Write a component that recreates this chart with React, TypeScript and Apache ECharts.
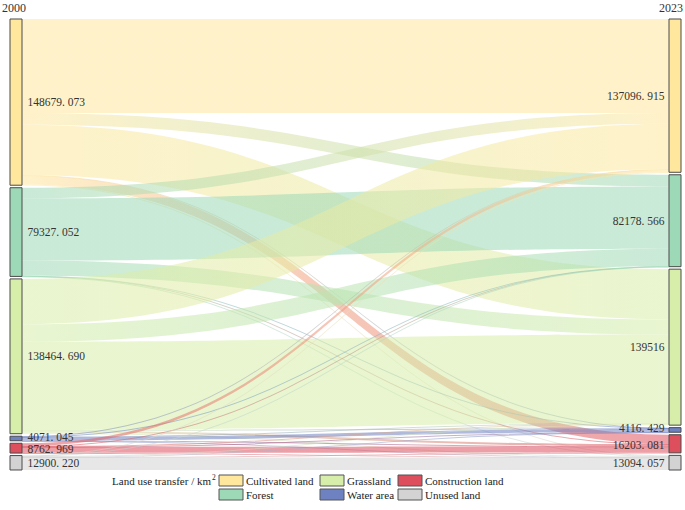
import React, { useEffect, useRef } from 'react';
import * as echarts from 'echarts';

const years = ['2000', '2023'];
const landTypes = ['Cultivated land', 'Forest', 'Grassland', 'Water area', 'Construction land', 'Unused land'];
const totals2000 = [148679.073, 79327.052, 138464.69, 4071.045, 8762.969, 12900.22];
const totals2023 = [137096.915, 82178.566, 139516, 4116.429, 16203.081, 13094.057];

// transfer from each 2000 type to the 2023 types (same order as landTypes)
const fromCultivated = [84147.073, 10400, 45000, 400, 8190, 542];
const fromForest = [9500, 55677.052, 13500, 150, 350, 150];
const fromGrassland = [40500, 15650, 79014.69, 600, 1800, 900];
const fromWater = [300, 152, 501, 2816.045, 200, 102];
const fromConstruction = [2500, 100, 600, 50, 5362.969, 150];
const fromUnused = [150, 200, 900, 100, 300, 11250.22];
const transferRows = [fromCultivated, fromForest, fromGrassland, fromWater, fromConstruction, fromUnused];

const typeColors = ['#FFE79E', '#9DD9B7', '#D6EEA9', '#6E82C2', '#DE4F5E', '#D3D3D3'];
const legendTitle = 'Land use transfer / km';
const legendSup = '2';

const FONT = '"Liberation Serif", "DejaVu Serif", serif';
// small vertical nudges for the crowded labels at the bottom (water, construction)
const labelNudge = [0, 0, 0, -1.5, 1, 0.5];

function fmt(v: number): string {
  if (Number.isInteger(v)) return String(v);
  return v.toFixed(3).replace('.', '. ');
}

export default function App() {
  const ref = useRef<HTMLDivElement>(null);
  useEffect(() => {
    if (!ref.current) return;
    const chart = echarts.init(ref.current, undefined, { renderer: 'svg' });
    const nodeName = (t: string, y: string) => `${t} (${y})`;
    const nodes: any[] = [];
    landTypes.forEach((t, i) => {
      nodes.push({
        name: nodeName(t, years[0]),
        value: totals2000[i],
        depth: 0,
        itemStyle: { color: typeColors[i], borderColor: '#4a4a4a', borderWidth: 1 },
        label: { position: 'right', distance: 5, offset: [0, labelNudge[i]], formatter: fmt(totals2000[i]) },
      });
    });
    landTypes.forEach((t, i) => {
      nodes.push({
        name: nodeName(t, years[1]),
        value: totals2023[i],
        depth: 1,
        itemStyle: { color: typeColors[i], borderColor: '#4a4a4a', borderWidth: 1 },
        label: { position: 'left', distance: 4, offset: [0, labelNudge[i]], formatter: fmt(totals2023[i]) },
      });
    });
    const links: any[] = [];
    transferRows.forEach((row, i) => {
      row.forEach((v, j) => {
        links.push({ source: nodeName(landTypes[i], years[0]), target: nodeName(landTypes[j], years[1]), value: v });
      });
    });

    const graphics: any[] = [
      { type: 'text', x: 2, y: 8, style: { text: years[0], fontSize: 12, fontFamily: FONT, fill: '#333', verticalAlign: 'middle' } },
      { type: 'text', x: 683, y: 8, style: { text: years[1], fontSize: 12, fontFamily: FONT, fill: '#333', align: 'right', verticalAlign: 'middle' } },
      { type: 'text', x: 211, y: 481, style: { text: legendTitle, fontSize: 11, fontFamily: FONT, fill: '#222', align: 'right', verticalAlign: 'middle' } },
      { type: 'text', x: 212, y: 477, style: { text: legendSup, fontSize: 7.5, fontFamily: FONT, fill: '#222', align: 'left', verticalAlign: 'middle' } },
    ];
    const colX = [219, 320, 398];
    const rowY = [475, 489];
    landTypes.forEach((t, i) => {
      const c = Math.floor(i / 2);
      const r = i % 2;
      graphics.push({
        type: 'rect',
        shape: { x: colX[c], y: rowY[r], width: 24, height: 11 },
        style: { fill: typeColors[i], stroke: '#555', lineWidth: 1 },
      });
      graphics.push({
        type: 'text',
        x: colX[c] + 27,
        y: rowY[r] + 6,
        style: { text: t, fontSize: 11, fontFamily: FONT, fill: '#222', verticalAlign: 'middle' },
      });
    });

    chart.setOption({
      animation: false,
      backgroundColor: '#ffffff',
      series: [
        {
          type: 'sankey',
          left: 10,
          right: 4,
          top: 19,
          bottom: 40,
          nodeWidth: 12,
          nodeGap: 2.5,
          layoutIterations: 0,
          nodeAlign: 'justify',
          silent: true,
          emphasis: { disabled: true },
          label: { fontSize: 11.5, lineHeight: 10, fontFamily: FONT, color: '#333' },
          lineStyle: { color: 'gradient', opacity: 0.55, curveness: 0.5 },
          data: nodes,
          links: links,
        },
      ],
      graphic: graphics,
    });
    return () => chart.dispose();
  }, []);
  return <div ref={ref} style={{ position: 'fixed', left: 0, top: 0, width: 685, height: 510 }} />;
}
